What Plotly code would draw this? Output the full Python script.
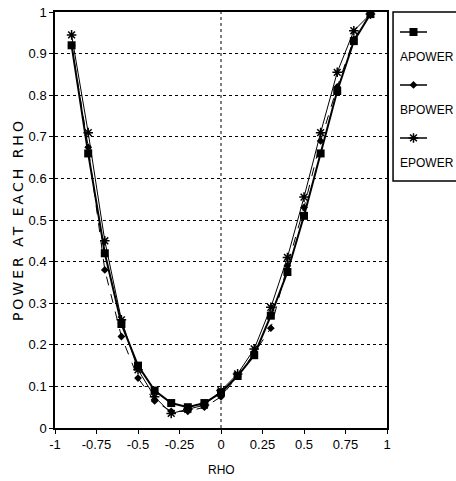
import plotly.graph_objects as go

# 資料
rho = [-0.9, -0.8, -0.7, -0.6, -0.5, -0.4, -0.3, -0.2, -0.1, 0.0,
       0.1, 0.2, 0.3, 0.4, 0.5, 0.6, 0.7, 0.8, 0.9]
apower = [0.92, 0.66, 0.42, 0.25, 0.15, 0.09, 0.06, 0.05, 0.06, 0.085,
          0.125, 0.175, 0.27, 0.375, 0.51, 0.66, 0.81, 0.93, 0.995]
bpower = [0.92, 0.675, 0.38, 0.22, 0.12, 0.065, 0.04, 0.04, 0.05, 0.075,
          0.125, 0.18, 0.24, 0.39, 0.53, 0.69, 0.82, 0.935, 0.995]
epower = [0.945, 0.71, 0.45, 0.26, 0.14, 0.075, 0.035, 0.045, 0.055, 0.09,
          0.13, 0.19, 0.29, 0.41, 0.555, 0.71, 0.855, 0.955, 0.995]

series_names = ['APOWER', 'BPOWER', 'EPOWER']
x_ticks = [-1, -0.75, -0.5, -0.25, 0, 0.25, 0.5, 0.75, 1]
x_ticktext = ['-1', '-0.75', '-0.5', '-0.25', '0', '0.25', '0.5', '0.75', '1']
y_ticks = [0, 0.1, 0.2, 0.3, 0.4, 0.5, 0.6, 0.7, 0.8, 0.9, 1]
y_ticktext = ['0', '0.1', '0.2', '0.3', '0.4', '0.5', '0.6', '0.7', '0.8', '0.9', '1']

FONT = 'Liberation Sans, Arial'

line_styles = {
    'APOWER': dict(color='black', width=2),
    'BPOWER': dict(color='black', width=1, dash='dash'),
    'EPOWER': dict(color='black', width=1),
}
marker_styles = {
    'APOWER': dict(symbol='square', size=8, color='black'),
    'BPOWER': dict(symbol='diamond', size=6, color='black'),
    'EPOWER': dict(symbol='asterisk-open', size=8, color='black',
                   line=dict(color='black', width=1.5)),
}

fig = go.Figure()

# ── 主圖 ──
for name, vals in zip(series_names, [apower, bpower, epower]):
    fig.add_trace(go.Scatter(
        x=rho, y=vals, mode='lines+markers', name=name, showlegend=False,
        line=line_styles[name], marker=marker_styles[name],
    ))

# ── 自製圖例（線在上、文字在下）──
for i, name in enumerate(series_names):
    fig.add_trace(go.Scatter(
        x=[0, 1], y=[i, i], mode='lines', xaxis='x2', yaxis='y2',
        showlegend=False, hoverinfo='skip',
        line=dict(color='black', width=1.5),
    ))
    fig.add_trace(go.Scatter(
        x=[0.5], y=[i], mode='markers', xaxis='x2', yaxis='y2',
        showlegend=False, hoverinfo='skip', marker=marker_styles[name],
    ))
    fig.add_annotation(
        x=0, y=i + 0.47, xref='x2', yref='y2', text=name, showarrow=False,
        xanchor='left', yanchor='middle', xshift=-2,
        font=dict(family=FONT, size=12, color='black'),
    )

fig.add_shape(type='rect', xref='paper', yref='paper',
              x0=0.843, x1=1.02, y0=0.594, y1=1.0,
              line=dict(color='black', width=1.5))

# x = 0 的虛線
fig.add_shape(type='line', xref='x', yref='paper', x0=0, x1=0, y0=0, y1=1,
              line=dict(color='black', width=1, dash='dot'))

# 軸標題
fig.add_annotation(
    text='<span style="letter-spacing:3px">POWER AT EACH RHO</span>',
    xref='paper', yref='paper', x=-0.092, y=0.5,
    textangle=-90, showarrow=False, xanchor='center', yanchor='middle',
    font=dict(family='DejaVu Sans, Liberation Sans', size=14, color='black'),
)
fig.add_annotation(
    text='RHO', xref='paper', yref='paper', x=0.414, y=-0.101,
    showarrow=False, xanchor='center', yanchor='middle',
    font=dict(family=FONT, size=12, color='black'),
)

fig.update_layout(
    width=456, height=481,
    margin=dict(l=55, r=0, t=12, b=53, autoexpand=False),
    paper_bgcolor='white', plot_bgcolor='white',
    xaxis=dict(
        domain=[0, 0.828], range=[-1, 1], tickvals=x_ticks, ticktext=x_ticktext,
        showgrid=False, zeroline=False, showline=True, linecolor='black',
        linewidth=1.5, mirror=True, ticks='outside', ticklen=4, tickcolor='black',
        tickfont=dict(family=FONT, size=13, color='black'), automargin=False,
    ),
    yaxis=dict(
        range=[0, 1], tickvals=y_ticks, ticktext=y_ticktext,
        showgrid=True, gridcolor='black', griddash='dot', gridwidth=1,
        zeroline=False, showline=True, linecolor='black', linewidth=1.5,
        mirror=True, ticks='outside', ticklen=4, tickcolor='black',
        tickfont=dict(family=FONT, size=13, color='black'), automargin=False,
    ),
    xaxis2=dict(domain=[0.860, 0.928], range=[0, 1], visible=False,
                fixedrange=True),
    yaxis2=dict(domain=[0.594, 1.0], range=[2.811, -0.377], visible=False,
                anchor='x2', fixedrange=True),
)

# 去掉頁面預設邊距，讓圖貼齊視窗
fig.write_html('out.html', config={'displayModeBar': False},
               post_script="document.body.style.margin='0';"
                           "document.body.style.overflow='hidden';")
